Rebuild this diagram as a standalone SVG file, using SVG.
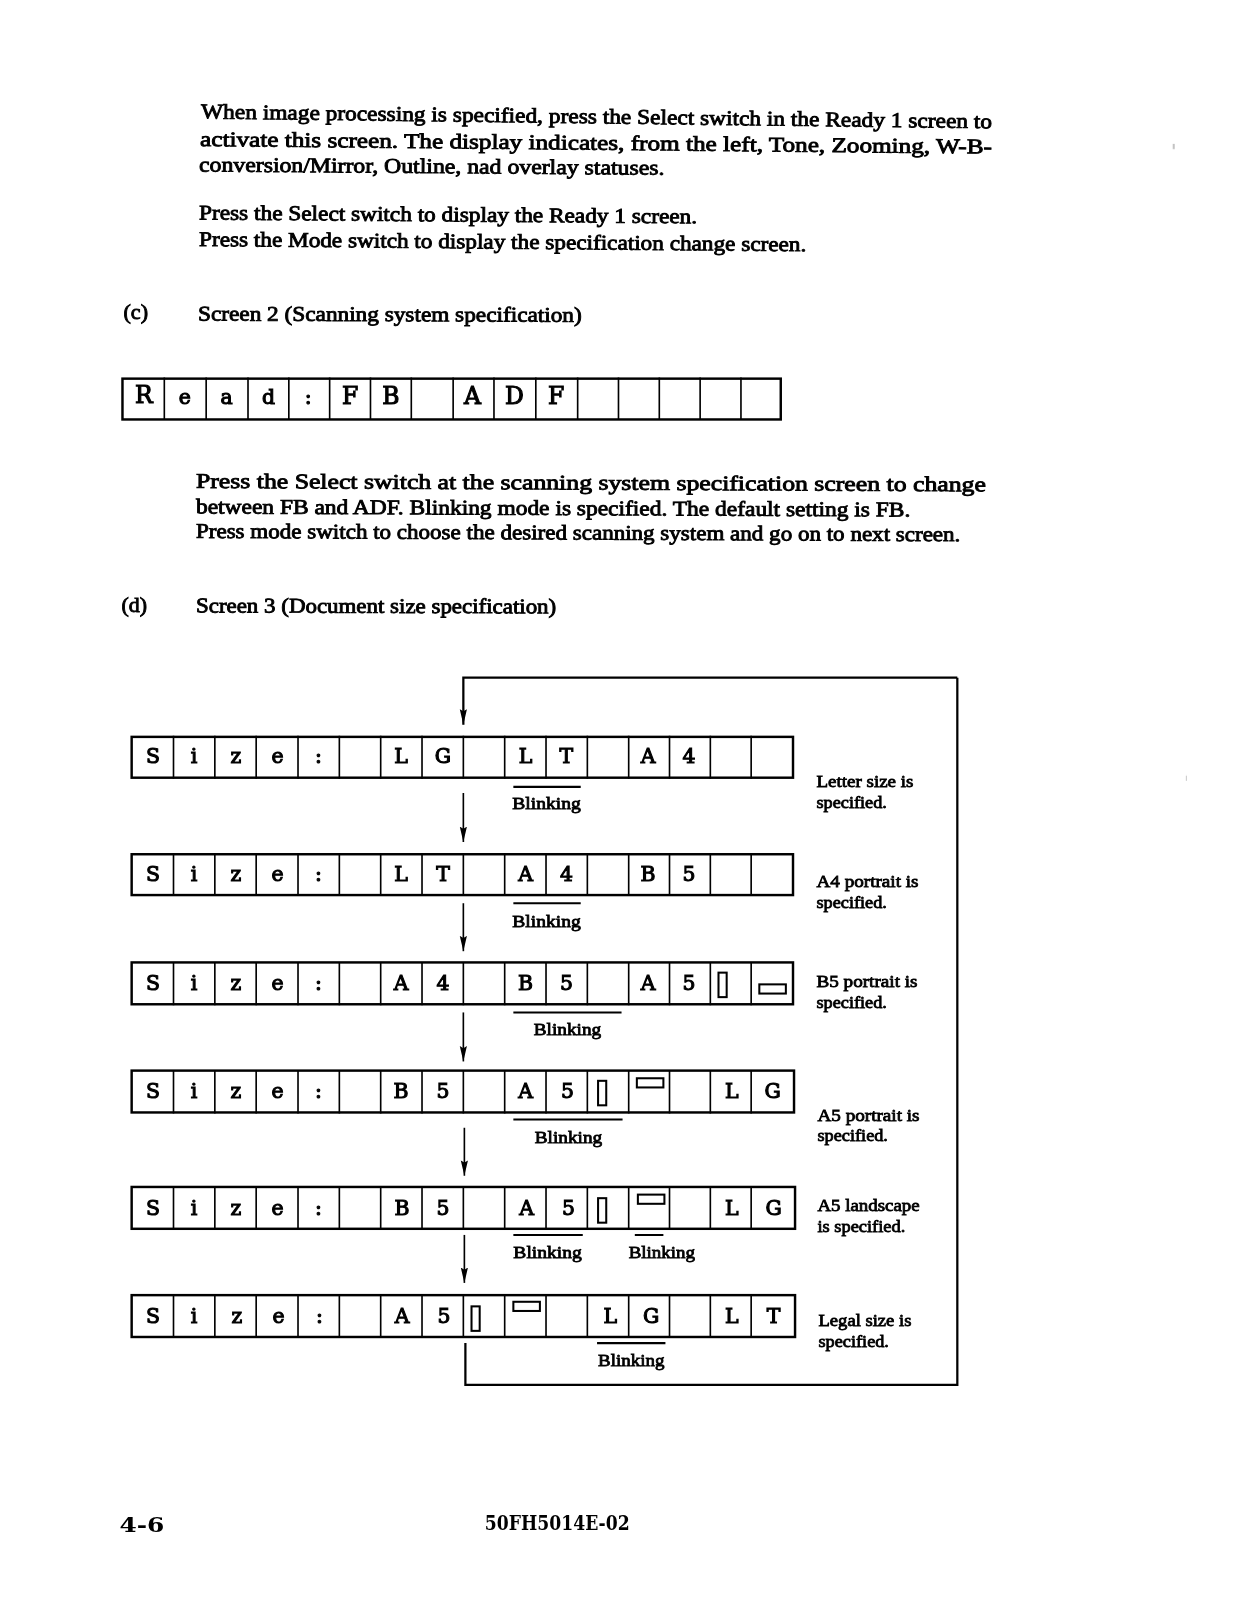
<svg xmlns="http://www.w3.org/2000/svg" width="1237" height="1600" viewBox="0 0 1237 1600">
<style>
text{fill:#000}
.p{font:400 20.5px "Liberation Serif",serif;stroke:#000;stroke-width:.85}
.s{font:400 17px "Liberation Serif",serif;stroke:#000;stroke-width:.8}
.c{font:400 20px "DejaVu Serif",serif;text-anchor:middle;stroke:#000;stroke-width:1.1}
.r{font:400 23px "DejaVu Serif",serif;text-anchor:middle;stroke:#000;stroke-width:1.1}
.f{font:700 20px "DejaVu Serif",serif}
.box{fill:none;stroke:#000;stroke-width:2.4}
.d{fill:none;stroke:#000;stroke-width:1.6}
.b{fill:none;stroke:#000;stroke-width:2}
.w{fill:none;stroke:#000;stroke-width:2.2}
.g{fill:none;stroke:#000;stroke-width:2}
</style>
<defs>
<filter id="scan" x="0" y="0" width="100%" height="100%"><feGaussianBlur stdDeviation="0.4"/></filter>
<marker id="a" markerUnits="userSpaceOnUse" markerWidth="8" markerHeight="16" refX="4" refY="15" orient="0" viewBox="0 0 8 16"><path d="M0.500 0L4 2L7.500 0L4 15Z" fill="#000"/></marker>
<g id="dv"><path class="d" d="M41 0V42M81.500 0V42M122 0V42M163 0V42M203.500 0V42M244 0V42M284.500 0V42M325 0V42M365.500 0V42M406 0V42M446.500 0V42M487 0V42M527 0V42M567 0V42M607 0V42"/></g>
<g id="pt"><rect x="-4" y="-12" width="8" height="24" class="g"/></g>
<g id="ls"><rect x="-13" y="-4.500" width="26" height="9" class="g"/></g>
</defs>
<rect width="1237" height="1600" fill="#fff"/>
<g transform="scale(1.0206)" filter="url(#scan)">
<path id="specks" d="M1150 141V146M1163 760V765" stroke="#888" stroke-width="1" fill="none"/>
<g id="intro">
<text class="p" transform="rotate(.72 197 116)" x="197" y="116" textLength="775" lengthAdjust="spacingAndGlyphs">When image processing is specified, press the Select switch in the Ready 1 screen to</text>
<text class="p" transform="rotate(.55 196 143)" x="196" y="143" textLength="776" lengthAdjust="spacingAndGlyphs">activate this screen.  The display indicates, from the left, Tone, Zooming, W-B-</text>
<text class="p" transform="rotate(.4 195 168)" x="195" y="168" textLength="456" lengthAdjust="spacingAndGlyphs">conversion/Mirror, Outline, nad overlay statuses.</text>
<text class="p" transform="rotate(.45 195 215)" x="195" y="215" textLength="488" lengthAdjust="spacingAndGlyphs">Press the Select switch to display the Ready 1 screen.</text>
<text class="p" transform="rotate(.5 195 241)" x="195" y="241" textLength="595" lengthAdjust="spacingAndGlyphs">Press the Mode switch to display the specification change screen.</text>
<text class="p" x="121" y="313" textLength="24" lengthAdjust="spacingAndGlyphs">(c)</text>
<text class="p" transform="rotate(.2 194 314)" x="194" y="314" textLength="376" lengthAdjust="spacingAndGlyphs">Screen 2 (Scanning system specification)</text>
</g>
<g id="screen2">
<rect class="box" x="120" y="371" width="645" height="40"/>
<path class="d" d="M161 370V411M202 370V411M243 370V411M283 370V411M323 370V411M363 370V411M403 370V411M444 370V411M484 370V411M525 370V411M566 370V411M606 370V411M646 370V411M686 370V411M726 370V411"/>
<text class="r" x="141" y="395">R</text><text class="c" x="181" y="396">e</text><text class="c" x="222" y="396">a</text><text class="c" x="263" y="396">d</text><text class="c" x="302" y="396">:</text><text class="r" x="343" y="396">F</text><text class="r" x="383" y="396">B</text><text class="r" x="463" y="396">A</text><text class="r" x="504" y="396">D</text><text class="r" x="545" y="396">F</text>
</g>
<g id="para2">
<text class="p" transform="rotate(.25 192 478)" x="192" y="478" textLength="774" lengthAdjust="spacingAndGlyphs">Press the Select switch at the scanning system specification screen to change</text>
<text class="p" transform="rotate(.25 192 503)" x="192" y="503" textLength="700" lengthAdjust="spacingAndGlyphs">between FB and ADF.  Blinking mode is specified.  The default setting is FB.</text>
<text class="p" transform="rotate(.25 192 527)" x="192" y="527" textLength="749" lengthAdjust="spacingAndGlyphs">Press mode switch to choose the desired scanning system and go on to next screen.</text>
<text class="p" x="119" y="600" textLength="25" lengthAdjust="spacingAndGlyphs">(d)</text>
<text class="p" transform="rotate(.15 192 600)" x="192" y="600" textLength="353" lengthAdjust="spacingAndGlyphs">Screen 3 (Document size specification)</text>
</g>
<g id="connectors">
<path class="w" d="M938 664V1357H456V1316"/>
<path class="w" d="M938 664H454V710" marker-end="url(#a)"/>
<path class="d" d="M454 777V825" marker-end="url(#a)"/>
<path class="d" d="M454 885V932" marker-end="url(#a)"/>
<path class="d" d="M454 992V1040" marker-end="url(#a)"/>
<path class="d" d="M455 1105V1152" marker-end="url(#a)"/>
<path class="d" d="M455 1210V1257" marker-end="url(#a)"/>
</g>
<g id="row1"><rect class="box" x="129" y="722" width="648" height="40"/><use href="#dv" x="129" y="721"/>
<text class="c" x="150" y="748">S</text><text class="c" x="190" y="748">i</text><text class="c" x="231" y="748">z</text><text class="c" x="272" y="748">e</text><text class="c" x="312" y="748">:</text><text class="c" x="393" y="748">L</text><text class="c" x="434" y="748">G</text><text class="c" x="515" y="748">L</text><text class="c" x="555" y="748">T</text><text class="c" x="635" y="748">A</text><text class="c" x="675" y="748">4</text></g>
<g id="row2"><rect class="box" x="129" y="837" width="648" height="40"/><use href="#dv" x="129" y="836"/>
<text class="c" x="150" y="863">S</text><text class="c" x="190" y="863">i</text><text class="c" x="231" y="863">z</text><text class="c" x="272" y="863">e</text><text class="c" x="312" y="863">:</text><text class="c" x="393" y="863">L</text><text class="c" x="434" y="863">T</text><text class="c" x="515" y="863">A</text><text class="c" x="555" y="863">4</text><text class="c" x="635" y="863">B</text><text class="c" x="675" y="863">5</text></g>
<g id="row3"><rect class="box" x="129" y="943" width="648" height="41"/><use href="#dv" x="129" y="943"/>
<text class="c" x="150" y="970">S</text><text class="c" x="190" y="970">i</text><text class="c" x="231" y="970">z</text><text class="c" x="272" y="970">e</text><text class="c" x="312" y="970">:</text><text class="c" x="393" y="970">A</text><text class="c" x="434" y="970">4</text><text class="c" x="515" y="970">B</text><text class="c" x="555" y="970">5</text><text class="c" x="635" y="970">A</text><text class="c" x="675" y="970">5</text>
<use href="#pt" x="708" y="965"/><use href="#ls" x="757" y="969"/></g>
<g id="row4"><rect class="box" x="129" y="1049" width="649" height="41"/><use href="#dv" x="129" y="1049"/>
<text class="c" x="150" y="1076">S</text><text class="c" x="190" y="1076">i</text><text class="c" x="231" y="1076">z</text><text class="c" x="272" y="1076">e</text><text class="c" x="312" y="1076">:</text><text class="c" x="393" y="1076">B</text><text class="c" x="434" y="1076">5</text><text class="c" x="515" y="1076">A</text><text class="c" x="556" y="1076">5</text><text class="c" x="717" y="1076">L</text><text class="c" x="757" y="1076">G</text>
<use href="#pt" x="590" y="1071"/><use href="#ls" x="637" y="1061"/></g>
<g id="row5"><rect class="box" x="129" y="1163" width="650" height="41"/><use href="#dv" x="129" y="1163"/>
<text class="c" x="150" y="1190">S</text><text class="c" x="190" y="1190">i</text><text class="c" x="231" y="1190">z</text><text class="c" x="272" y="1190">e</text><text class="c" x="312" y="1190">:</text><text class="c" x="394" y="1190">B</text><text class="c" x="434" y="1190">5</text><text class="c" x="516" y="1190">A</text><text class="c" x="557" y="1190">5</text><text class="c" x="717" y="1190">L</text><text class="c" x="758" y="1190">G</text>
<use href="#pt" x="590" y="1186"/><use href="#ls" x="638" y="1175"/></g>
<g id="row6"><rect class="box" x="129" y="1269" width="650" height="41"/><use href="#dv" x="129" y="1268"/>
<text class="c" x="150" y="1296">S</text><text class="c" x="190" y="1296">i</text><text class="c" x="232" y="1296">z</text><text class="c" x="273" y="1296">e</text><text class="c" x="313" y="1296">:</text><text class="c" x="394" y="1296">A</text><text class="c" x="435" y="1296">5</text><text class="c" x="598" y="1296">L</text><text class="c" x="638" y="1296">G</text><text class="c" x="717" y="1296">L</text><text class="c" x="758" y="1296">T</text>
<use href="#pt" x="466" y="1292"/><use href="#ls" x="516" y="1280"/></g>
<g id="blink">
<path class="b" d="M503 771H569M503 885H569M503 992H609M503 1097H610M503 1210H571M622 1210H650M585 1316H652"/>
<text class="s" x="502" y="793" textLength="67" lengthAdjust="spacingAndGlyphs">Blinking</text>
<text class="s" x="502" y="908" textLength="67" lengthAdjust="spacingAndGlyphs">Blinking</text>
<text class="s" x="523" y="1014" textLength="66" lengthAdjust="spacingAndGlyphs">Blinking</text>
<text class="s" x="524" y="1120" textLength="66" lengthAdjust="spacingAndGlyphs">Blinking</text>
<text class="s" x="503" y="1233" textLength="67" lengthAdjust="spacingAndGlyphs">Blinking</text>
<text class="s" x="616" y="1233" textLength="65" lengthAdjust="spacingAndGlyphs">Blinking</text>
<text class="s" x="586" y="1338" textLength="65" lengthAdjust="spacingAndGlyphs">Blinking</text>
</g>
<g id="notes">
<text class="s" x="800" y="771" textLength="95" lengthAdjust="spacingAndGlyphs">Letter size is</text><text class="s" x="800" y="792" textLength="69" lengthAdjust="spacingAndGlyphs">specified.</text>
<text class="s" x="800" y="869" textLength="100" lengthAdjust="spacingAndGlyphs">A4 portrait is</text><text class="s" x="800" y="890" textLength="69" lengthAdjust="spacingAndGlyphs">specified.</text>
<text class="s" x="800" y="967" textLength="99" lengthAdjust="spacingAndGlyphs">B5 portrait is</text><text class="s" x="800" y="988" textLength="69" lengthAdjust="spacingAndGlyphs">specified.</text>
<text class="s" x="801" y="1098" textLength="100" lengthAdjust="spacingAndGlyphs">A5 portrait is</text><text class="s" x="801" y="1118" textLength="69" lengthAdjust="spacingAndGlyphs">specified.</text>
<text class="s" x="801" y="1187" textLength="100" lengthAdjust="spacingAndGlyphs">A5 landscape</text><text class="s" x="801" y="1207" textLength="86" lengthAdjust="spacingAndGlyphs">is specified.</text>
<text class="s" x="802" y="1299" textLength="91" lengthAdjust="spacingAndGlyphs">Legal size is</text><text class="s" x="802" y="1320" textLength="69" lengthAdjust="spacingAndGlyphs">specified.</text>
</g>
<g id="footer">
<text class="f" x="117" y="1501" textLength="44" lengthAdjust="spacingAndGlyphs">4-6</text>
<text class="f" x="475" y="1499" textLength="142" lengthAdjust="spacingAndGlyphs">50FH5014E-02</text>
</g>
</g>
</svg>
